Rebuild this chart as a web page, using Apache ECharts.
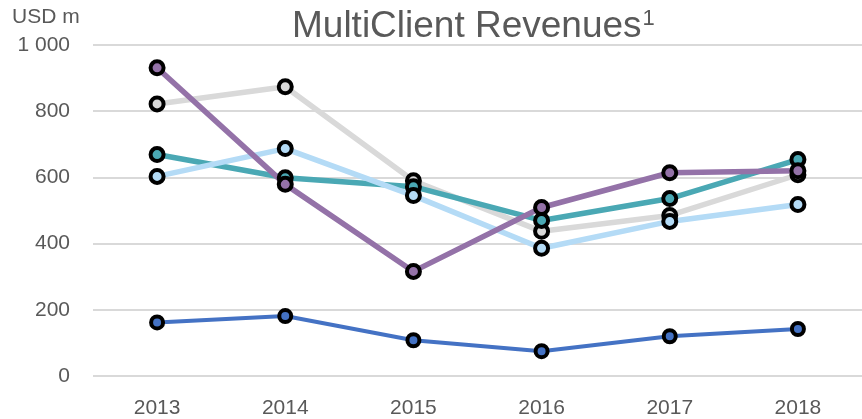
<!DOCTYPE html>
<html>
<head>
<meta charset="utf-8">
<script src="https://cdn.jsdelivr.net/npm/echarts@6/dist/echarts.min.js"></script>
<style>
html,body{margin:0;padding:0;background:#fff;}
#chart{width:862px;height:419px;}
</style>
</head>
<body>
<div id="chart"></div>
<script>
const years = ['2013', '2014', '2015', '2016', '2017', '2018'];
const yTicks = [0, 200, 400, 600, 800, 1000];
const seriesGray = [822, 874, 590, 437, 485, 608];
const seriesTeal = [669, 599, 572, 470, 536, 654];
const seriesLightBlue = [603, 687, 545, 386, 467, 518];
const seriesBlue = [162, 181, 108, 75, 120, 142];
const seriesPurple = [931, 579, 316, 509, 614, 620];

const FONT = '"Liberation Sans", Arial, sans-serif';
const TXT = '#595959';

function mkSeries(name, data, color, width, size) {
  return {
    name: name,
    type: 'line',
    data: data,
    symbol: 'circle',
    symbolSize: size,
    showAllSymbol: true,
    lineStyle: { color: color, width: width },
    itemStyle: { color: color, borderColor: '#000', borderWidth: 4 },
    emphasis: { disabled: true },
    animation: false
  };
}

const chart = echarts.init(document.getElementById('chart'));
chart.setOption({
  animation: false,
  backgroundColor: '#fff',
  title: {
    text: '{a|MultiClient Revenues}{b|1}',
    left: 287,
    top: 3,
    textStyle: {
      fontWeight: 'normal',
      rich: {
        a: { fontFamily: FONT, fontSize: 37, fontWeight: 'normal', color: TXT },
        b: { fontFamily: FONT, fontSize: 22, fontWeight: 'normal', color: TXT, verticalAlign: 'top', padding: [0, 0, 14, 1] }
      }
    }
  },
  grid: { left: 93, top: 45, width: 774, height: 332, containLabel: false },
  xAxis: {
    type: 'category',
    data: years,
    boundaryGap: true,
    axisLine: { show: false },
    axisTick: { show: false },
    axisLabel: { color: TXT, fontFamily: FONT, fontSize: 21, margin: 22 }
  },
  yAxis: {
    type: 'value',
    min: yTicks[0],
    max: yTicks[yTicks.length - 1],
    interval: 200,
    name: 'USD m',
    nameLocation: 'end',
    nameGap: 17,
    nameTextStyle: { color: TXT, fontFamily: FONT, fontSize: 21, align: 'left', padding: [0, 0, 0, -81] },
    axisLine: { show: false },
    axisTick: { show: false },
    splitLine: { lineStyle: { color: '#d9d9d9', width: 2 } },
    axisLabel: {
      color: TXT, fontFamily: FONT, fontSize: 21, margin: 23,
      formatter: v => v >= 1000 ? '1 000' : String(v)
    }
  },
  series: [
    mkSeries('Series 1', seriesGray, '#d9d9d9', 5.5, 13),
    mkSeries('Series 2', seriesTeal, '#4aa8b4', 5.5, 13),
    mkSeries('Series 3', seriesLightBlue, '#b4dbf6', 5.5, 13),
    mkSeries('Series 4', seriesBlue, '#4472c4', 4, 12),
    mkSeries('Series 5', seriesPurple, '#9472a8', 5.5, 13)
  ]
});
</script>
</body>
</html>
